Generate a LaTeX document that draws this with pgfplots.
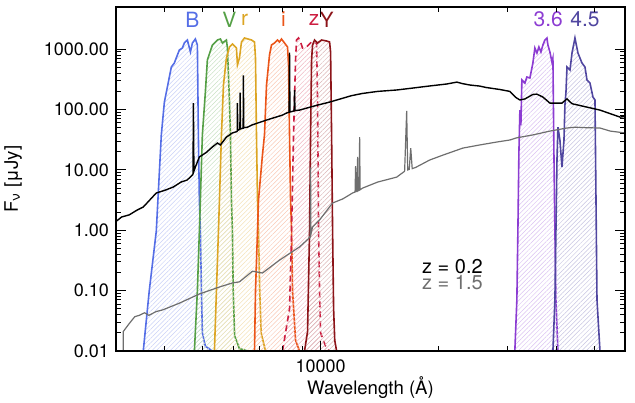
\documentclass[border=0pt]{standalone}
\usepackage{pgfplots}
\pgfplotsset{compat=1.18}
\usetikzlibrary{patterns.meta}
\usepackage{fontspec}
\setmainfont{TeX Gyre Heros}

\definecolor{cB}{RGB}{85,110,230}
\definecolor{cV}{RGB}{85,160,70}
\definecolor{cr}{RGB}{220,165,35}
\definecolor{ci}{RGB}{235,85,25}
\definecolor{cz}{RGB}{205,30,65}
\definecolor{cY}{RGB}{140,20,25}
\definecolor{cIa}{RGB}{140,60,210}
\definecolor{cIb}{RGB}{80,70,160}
\definecolor{cgray}{RGB}{110,110,110}

% filter: colour, extra line style, coordinates
\newcommand{\filter}[3]{%
  \addplot[draw=none, pattern={Lines[angle=45,distance=1.6pt,line width=0.25pt]},
    pattern color=#1!32, forget plot] coordinates {#3} -- cycle;
  \addplot[#1, line width=0.8pt, #2] coordinates {#3};
}

\begin{document}
\begin{tikzpicture}
\begin{axis}[
  scale only axis,
  width=254.5pt, height=172pt,
  xmode=log, ymode=log,
  xmin=3000, xmax=60000,
  ymin=0.01, ymax=5000,
  axis on top,
  xtick={10000}, xticklabels={10000},
  minor xtick={3000,4000,5000,6000,7000,8000,9000,20000,30000,40000,50000,60000},
  ytick={0.01,0.1,1,10,100,1000},
  yticklabels={0.01,0.10,1.00,10.00,100.00,1000.00},
  major tick length=5pt, minor tick length=2.5pt,
  tick style={black, line width=0.5pt},
  axis line style={line width=0.6pt},
  ticklabel style={font=\fontsize{9}{10}\selectfont},
  xticklabel style={yshift=-1pt},
  xlabel={Wavelength (Å)},
  ylabel={F\textsubscript{ν} [μJy]},
  label style={font=\fontsize{9.3}{11}\selectfont},
  xlabel style={at={(rel axis cs:0.5,0)}, anchor=center, yshift=-18.5pt},
  ylabel shift=4pt,
  clip=true,
]

\filter{cB}{}{(3522,0.01)(3649,0.1)(3803,0.97)(3917,38)(3988,133)(4155,507)(4228,590)(4355,970)(4433,1047)(4485,1267)(4566,1420)(4648,899)(4703,1267)(4786,1476)(4843,1174)(4871,38)(4900,3.2)(4929,0.97)(4960,0.1)(4987,0.02)(5076,0.012)(5291,0.01)}

\filter{cV}{}{(4759,0.01)(4843,0.1)(4900,0.97)(4929,3.2)(4987,38)(5076,195)(5136,662)(5291,1174)(5450,1420)(5546,1476)(5612,1267)(5746,1420)(5780,1047)(5848,144)(5883,38)(5918,3.2)(5952,0.97)(5980,0.1)(6030,0.018)(6200,0.011)(6504,0.01)}

\filter{cr}{}{(5354,0.01)(5418,0.1)(5482,0.97)(5515,3.2)(5580,38)(5646,255)(5746,715)(5848,1087)(5952,1219)(6095,1047)(6131,550)(6204,715)(6278,1315)(6390,1533)(6660,1420)(6778,1315)(6818,715)(6858,38)(6899,3.2)(6940,0.97)(6990,0.1)(7050,0.02)(7232,0.01)}

\filter{ci}{}{(6778,0.01)(6818,0.1)(6899,0.97)(6940,3.2)(7105,18)(7189,38)(7275,255)(7404,802)(7492,1174)(7625,1267)(7762,1420)(7852,1315)(7946,1476)(8088,1267)(8233,1087)(8282,547)(8330,38)(8381,3.2)(8431,0.97)(8479,0.1)(8630,0.015)(8835,0.01)}

\filter{cz}{dashed, dash pattern=on 3pt off 2pt}{(7993,0.01)(8330,0.05)(8431,0.97)(8529,38)(8630,662)(8681,1420)(8784,1533)(8888,1315)(8995,1047)(9209,1087)(9484,1315)(9767,1267)(9824,144)(9883,0.97)(9940,0.1)(10000,0.02)(10300,0.012)(10545,0.01)}

\filter{cY}{}{(9100,0.01)(9262,0.021)(9372,0.97)(9428,38)(9484,662)(9539,1174)(9652,1420)(9824,1267)(10060,1420)(10360,1368)(10545,1315)(10607,899)(10670,38)(10733,0.97)(10797,0.05)(10870,0.015)(10990,0.01)}

\filter{cIa}{}{(31370,0.01)(31750,0.07)(31940,0.97)(32130,19)(32320,98)(32510,55)(32700,309)(33290,275)(33680,346)(34280,333)(34890,590)(35300,1047)(35730,865)(36150,1087)(36580,899)(37010,1174)(37450,1420)(37900,1533)(38120,1174)(38570,899)(39030,614)(39260,715)(39490,19)(39720,0.97)(39960,0.07)(40430,0.01)}

\filter{cIb}{}{(39260,0.01)(39720,0.07)(39960,0.97)(40200,14.6)(40430,51)(40910,31)(41400,11.2)(41890,31)(42130,119)(42390,195)(42640,507)(43400,452)(43920,865)(44690,1533)(45490,865)(46030,715)(46580,590)(47400,507)(47970,309)(48820,275)(49690,161)(50280,144)(50580,3.2)(50880,0.07)(51780,0.01)}

% z = 1.5 spectrum
\addplot[cgray, line width=0.6pt] coordinates {
(3131,0.01)(3131,0.021)(3250,0.029)(3350,0.037)(3440,0.039)(3550,0.043)(3640,0.039)(3800,0.045)(3950,0.048)(4355,0.062)(4900,0.088)(5515,0.115)(5952,0.134)(6204,0.14)(6699,0.21)(7105,0.196)(7852,0.32)(8835,0.53)(9300,0.72)(9410,0.8)(9428,11)(9446,0.85)(9539,1.13)(9940,1.48)(10300,2.0)(10733,2.83)(11385,3.3)(12075,4.15)(12250,4.3)(12290,11.6)(12320,4.4)(12390,4.4)(12437,16.4)(12470,4.5)(12560,4.6)(12584,35)(12620,4.7)(12808,5.0)(14000,6.3)(15650,7.6)(16400,9.5)(16600,95)(16700,10)(16850,10.2)(17000,23)(17150,10.5)(17500,11)(19010,14.6)(20600,17.7)(23100,23)(25500,25.9)(28220,29)(30460,31.3)(31700,34)(34890,38)(38570,44)(42640,49.5)(44690,51)(47970,50)(51780,49.5)(55000,44)(60000,41)};

% z = 0.2 spectrum
\addplot[black, line width=0.7pt] coordinates {
(3000,1.4)(3100,1.66)(3243,1.8)(3400,2.17)(3522,2.43)(3600,2.83)(3700,3.43)(3803,4.15)(4000,4.6)(4200,5.2)(4400,6.3)(4560,6.8)(4700,8.2)(4720,8.6)(4731,128)(4745,9.5)(4786,11.2)(4900,16.4)(5100,19.4)(5291,24)(5450,27.9)(5546,25.9)(5746,35)(5952,41)(6100,43)(6125,44)(6131,128)(6140,45)(6220,47)(6230,190)(6240,48)(6340,49)(6350,370)(6362,50)(6500,51)(6700,56)(7275,67)(7993,81)(8200,88)(8310,90)(8330,880)(8350,91)(8560,95)(8580,210)(8600,96)(8835,98)(9652,115)(10545,133)(12000,170)(12808,185)(14000,200)(15650,211)(17000,225)(19010,246)(21000,265)(22300,285)(23000,270)(24070,255)(25500,245)(26500,232)(28720,215)(30460,200)(31500,160)(32320,144)(33290,150)(34890,178)(35730,180)(37010,161)(38570,128)(40000,128)(41400,128)(42640,150)(43920,125)(51780,98)(58290,75)(60000,77)};

% filter names and redshift key
\begin{scope}[every node/.style={font=\fontsize{10.5}{12}\selectfont, anchor=center}]
\node[text=cB] at (axis cs:4703,3100) {B};
\node[text=cV] at (axis cs:5848,3100) {V};
\node[text=cr] at (axis cs:6400,3100) {r};
\node[text=ci] at (axis cs:8040,3100) {i};
\node[text=cz] at (axis cs:9630,3100) {z};
\node[text=cY] at (axis cs:10360,3100) {Y};
\node[text=cIa] at (axis cs:38200,3100) {3.6};
\node[text=cIb] at (axis cs:47400,3100) {4.5};
\end{scope}
\node[anchor=base west, font=\fontsize{10}{12}\selectfont, inner sep=0pt] at (axis cs:18140,0.196) {z = 0.2};
\node[anchor=base west, font=\fontsize{10}{12}\selectfont, text=cgray, inner sep=0pt] at (axis cs:18140,0.1025) {z = 1.5};

\end{axis}
\pgfresetboundingbox
\path ([shift={(-58pt,-26pt)}]current axis.south west) rectangle ([shift={(5pt,3.5pt)}]current axis.north east);
\end{tikzpicture}
\end{document}
